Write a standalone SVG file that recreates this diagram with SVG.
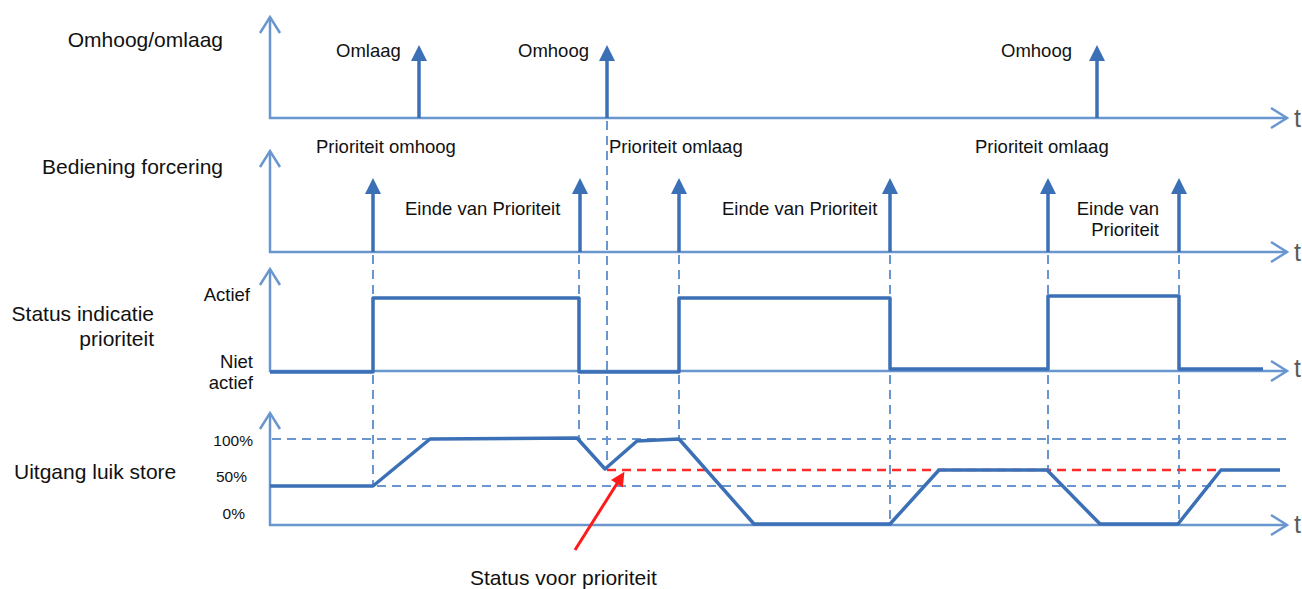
<svg xmlns="http://www.w3.org/2000/svg" width="1302" height="589" viewBox="0 0 1302 589">
<style>
text{font-family:"Liberation Sans",Arial,sans-serif;fill:#111}
.lbl{font-size:21px}
.sm{font-size:18.5px}
.pc{font-size:15.5px}
.t{font-size:25px;fill:#5a5a5a}
.axis{fill:none;stroke:#6a96cf;stroke-width:2.5}
.sig{fill:none;stroke:#3c70b6;stroke-width:3.5;stroke-linejoin:round}
.pulse{stroke:#3c70b6;stroke-width:3.5}
.dash{fill:none;stroke:#6a96cf;stroke-width:2;stroke-dasharray:9 6}
.rdash{fill:none;stroke:#ff2a2a;stroke-width:2.5;stroke-dasharray:9 6}
</style>
<defs>
<marker id="open" viewBox="-20 -13 24 26" refX="0" refY="0" markerWidth="24" markerHeight="26" markerUnits="userSpaceOnUse" orient="auto-start-reverse">
<path d="M-16,-10 L0,0 L-16,10" fill="none" stroke="#6a96cf" stroke-width="2.5"/>
</marker>
<marker id="head" viewBox="-17 -9 18 18" refX="-16" refY="0" markerWidth="18" markerHeight="18" markerUnits="userSpaceOnUse" orient="auto">
<path d="M-16,-8 L0,0 L-16,8 Z" fill="#3c70b6"/>
</marker>
<marker id="rhead" viewBox="-15 -8 16 16" refX="-12" refY="0" markerWidth="16" markerHeight="16" markerUnits="userSpaceOnUse" orient="auto">
<path d="M-14,-7 L0,0 L-14,7 Z" fill="#ff1a1a"/>
</marker>
</defs>

<g id="labels">
<text class="lbl" x="223" y="47" text-anchor="end">Omhoog/omlaag</text>
<text class="lbl" x="223" y="174" text-anchor="end">Bediening forcering</text>
<text class="lbl" x="154" y="321" text-anchor="end">Status indicatie</text>
<text class="lbl" x="154" y="346" text-anchor="end">prioriteit</text>
<text class="lbl" x="14" y="479">Uitgang luik store</text>
<text class="sm" x="250" y="301" text-anchor="end">Actief</text>
<text class="sm" x="253" y="368" text-anchor="end">Niet</text>
<text class="sm" x="253" y="389" text-anchor="end">actief</text>
<text class="pc" x="253" y="446" text-anchor="end">100%</text>
<text class="pc" x="247" y="482" text-anchor="end">50%</text>
<text class="pc" x="245" y="519" text-anchor="end">0%</text>
<text class="t" x="1294" y="127">t</text>
<text class="t" x="1294" y="261">t</text>
<text class="t" x="1294" y="377">t</text>
<text class="t" x="1294" y="533">t</text>
</g>

<g id="axes">
<path class="axis" d="M270,17 V118 H1287" marker-start="url(#open)" marker-end="url(#open)"/>
<path class="axis" d="M270,151 V252 H1287" marker-start="url(#open)" marker-end="url(#open)"/>
<path class="axis" d="M270,269 V371 H1287" marker-start="url(#open)" marker-end="url(#open)"/>
<path class="axis" d="M270,413 V525 H1287" marker-start="url(#open)" marker-end="url(#open)"/>
</g>

<g id="row1-events">
<line class="pulse" x1="419" y1="118" x2="419" y2="61" marker-end="url(#head)"/>
<line class="pulse" x1="607" y1="118" x2="607" y2="61" marker-end="url(#head)"/>
<line class="pulse" x1="1097" y1="118" x2="1097" y2="61" marker-end="url(#head)"/>
<text class="sm" x="336" y="57">Omlaag</text>
<text class="sm" x="518" y="57">Omhoog</text>
<text class="sm" x="1001" y="57">Omhoog</text>
</g>

<g id="row2-events">
<line class="pulse" x1="373" y1="252" x2="373" y2="194" marker-end="url(#head)"/>
<line class="pulse" x1="580" y1="252" x2="580" y2="194" marker-end="url(#head)"/>
<line class="pulse" x1="679" y1="252" x2="679" y2="194" marker-end="url(#head)"/>
<line class="pulse" x1="890" y1="252" x2="890" y2="194" marker-end="url(#head)"/>
<line class="pulse" x1="1048" y1="252" x2="1048" y2="194" marker-end="url(#head)"/>
<line class="pulse" x1="1179" y1="252" x2="1179" y2="194" marker-end="url(#head)"/>
<text class="sm" x="316" y="153">Prioriteit omhoog</text>
<text class="sm" x="609" y="153">Prioriteit omlaag</text>
<text class="sm" x="975" y="153">Prioriteit omlaag</text>
<text class="sm" x="405" y="215">Einde van Prioriteit</text>
<text class="sm" x="722" y="215">Einde van Prioriteit</text>
<text class="sm" x="1159" y="215" text-anchor="end">Einde van</text>
<text class="sm" x="1159" y="236" text-anchor="end">Prioriteit</text>
</g>

<g id="connectors">
<line class="dash" x1="373" y1="255" x2="373" y2="486"/>
<line class="dash" x1="579" y1="255" x2="579" y2="438"/>
<line class="dash" x1="607" y1="121" x2="607" y2="470"/>
<line class="dash" x1="679" y1="255" x2="679" y2="439"/>
<line class="dash" x1="890" y1="255" x2="890" y2="524"/>
<line class="dash" x1="1048" y1="255" x2="1048" y2="470"/>
<line class="dash" x1="1179" y1="255" x2="1179" y2="524"/>
<line class="dash" x1="272" y1="439" x2="1286" y2="439"/>
<line class="dash" x1="272" y1="486" x2="1286" y2="486"/>
<line class="rdash" x1="607" y1="470" x2="1222" y2="470"/>
</g>

<g id="row3-signal">
<path class="sig" d="M270,372 H373 V298 H579 V372 H679 V298 H890 V369 H1048 V296 H1179 V369 H1263"/>
</g>

<g id="row4-signal">
<path class="sig" d="M270,486 L373,486 L430,439 L577,438 L605,469 L637,441 L679,439 L754,524 L890,524 L939,470 L1047,470 L1100,524 L1178,524 L1221,470 L1280,470"/>
</g>

<g id="status-voor-prioriteit">
<line x1="575" y1="550" x2="618" y2="482" stroke="#ff1a1a" stroke-width="3" marker-end="url(#rhead)"/>
<text class="lbl" x="470" y="585">Status voor prioriteit</text>
</g>
</svg>
